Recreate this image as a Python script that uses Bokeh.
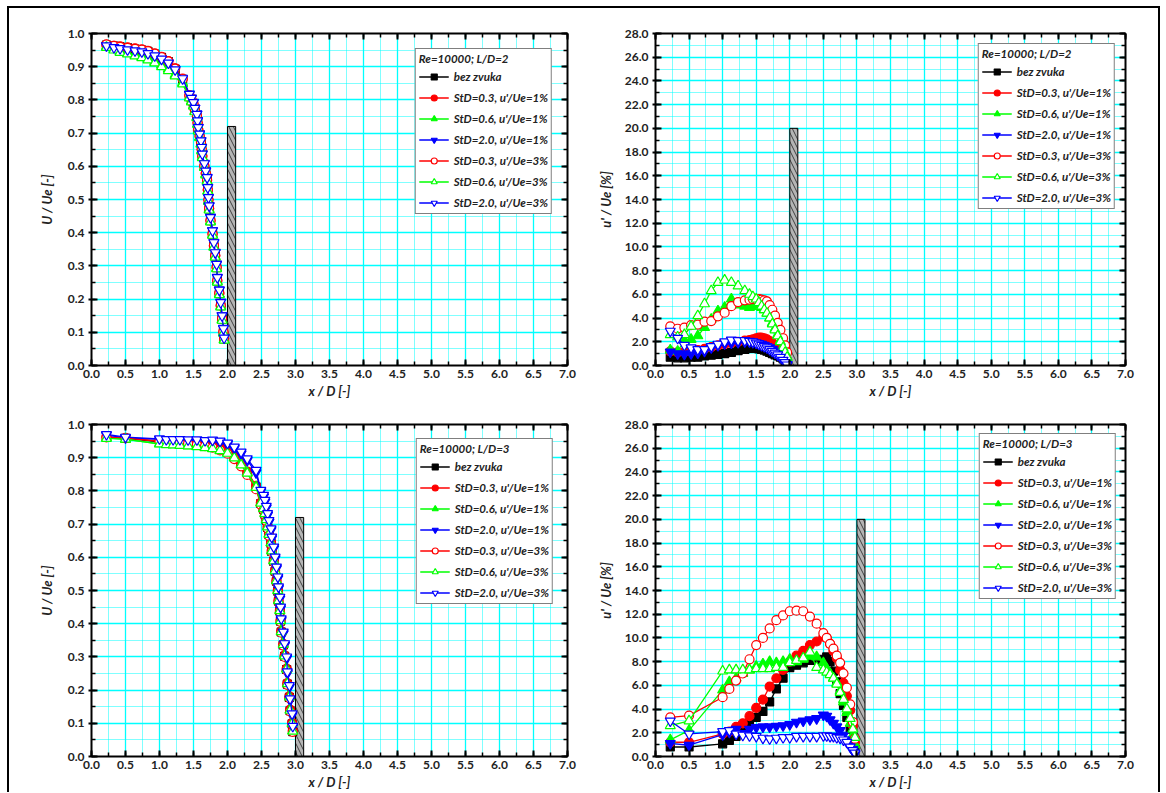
from bokeh.plotting import figure
from bokeh.models import (Range1d, LinearAxis, SingleIntervalTicker, PrintfTickFormatter,
                          Legend, LegendItem, CustomJSTickFormatter)
from bokeh.layouts import row, column
from bokeh.embed import file_html
from bokeh.resources import INLINE

# ---------------- data ----------------
series_labels = ["bez zvuka",
                 "StD=0.3, u'/Ue=1%", "StD=0.6, u'/Ue=1%", "StD=2.0, u'/Ue=1%",
                 "StD=0.3, u'/Ue=3%", "StD=0.6, u'/Ue=3%", "StD=2.0, u'/Ue=3%"]
legend_titles = ["Re=10000; L/D=2", "Re=10000; L/D=3"]

# plate (obstacle) geometry in x/D
plate_left = [2.0, 3.0]
plate_right = [2.12, 3.12]
plate_top_mean = [0.72, 0.72]
plate_top_rms = [20.0, 20.0]

# ---- L/D = 2, mean velocity U/Ue ----
x_ld2_mean = [0.22, 0.33, 0.42, 0.53, 0.64, 0.74, 0.83, 0.93, 1.03, 1.13,
              1.23, 1.34, 1.44, 1.47, 1.50, 1.52, 1.55, 1.56, 1.57, 1.59,
              1.61, 1.62, 1.63, 1.66, 1.68, 1.70, 1.71, 1.72, 1.73, 1.75,
              1.78, 1.80, 1.82, 1.84, 1.85, 1.88, 1.90, 1.92, 1.94, 1.95]
ld2_mean_bez = [0.965, 0.962, 0.960, 0.957, 0.953, 0.950, 0.946, 0.938, 0.928, 0.915,
                0.893, 0.862, 0.812, 0.800, 0.786, 0.768, 0.750, 0.730, 0.710, 0.690,
                0.670, 0.650, 0.630, 0.600, 0.578, 0.558, 0.528, 0.498, 0.472, 0.436,
                0.396, 0.360, 0.330, 0.295, 0.255, 0.217, 0.180, 0.140, 0.101, 0.080]
ld2_mean_03_1 = [0.966, 0.963, 0.961, 0.958, 0.955, 0.952, 0.948, 0.940, 0.930, 0.917,
                 0.895, 0.864, 0.814, 0.801, 0.787, 0.769, 0.751, 0.731, 0.711, 0.691,
                 0.671, 0.651, 0.631, 0.601, 0.579, 0.559, 0.529, 0.499, 0.473, 0.437,
                 0.397, 0.361, 0.331, 0.296, 0.256, 0.218, 0.181, 0.141, 0.102, 0.081]
ld2_mean_06_1 = [0.960, 0.952, 0.945, 0.940, 0.935, 0.930, 0.924, 0.915, 0.905, 0.893,
                 0.876, 0.852, 0.808, 0.796, 0.783, 0.766, 0.748, 0.728, 0.708, 0.688,
                 0.668, 0.648, 0.628, 0.598, 0.576, 0.556, 0.526, 0.496, 0.470, 0.434,
                 0.394, 0.358, 0.328, 0.293, 0.253, 0.215, 0.178, 0.138, 0.099, 0.078]
ld2_mean_20_1 = [0.964, 0.959, 0.956, 0.952, 0.949, 0.946, 0.941, 0.934, 0.924, 0.912,
                 0.892, 0.865, 0.818, 0.806, 0.793, 0.776, 0.758, 0.738, 0.718, 0.698,
                 0.678, 0.658, 0.638, 0.609, 0.587, 0.567, 0.537, 0.507, 0.482, 0.447,
                 0.407, 0.371, 0.341, 0.306, 0.266, 0.228, 0.191, 0.151, 0.112, 0.084]
ld2_mean_03_3 = [0.967, 0.963, 0.960, 0.957, 0.954, 0.951, 0.947, 0.939, 0.929, 0.916,
                 0.894, 0.863, 0.813, 0.801, 0.787, 0.769, 0.751, 0.731, 0.711, 0.691,
                 0.671, 0.651, 0.631, 0.601, 0.579, 0.559, 0.529, 0.499, 0.473, 0.437,
                 0.397, 0.361, 0.331, 0.296, 0.256, 0.218, 0.181, 0.141, 0.102, 0.081]
ld2_mean_06_3 = [0.958, 0.950, 0.943, 0.938, 0.932, 0.927, 0.920, 0.911, 0.900, 0.888,
                 0.872, 0.848, 0.806, 0.794, 0.781, 0.764, 0.746, 0.726, 0.706, 0.686,
                 0.666, 0.646, 0.626, 0.596, 0.574, 0.554, 0.524, 0.494, 0.468, 0.432,
                 0.392, 0.356, 0.326, 0.291, 0.251, 0.213, 0.176, 0.136, 0.097, 0.076]
ld2_mean_20_3 = [0.963, 0.958, 0.955, 0.951, 0.948, 0.945, 0.940, 0.933, 0.923, 0.911,
                 0.891, 0.864, 0.817, 0.805, 0.792, 0.775, 0.757, 0.737, 0.717, 0.697,
                 0.677, 0.657, 0.637, 0.608, 0.586, 0.566, 0.536, 0.506, 0.481, 0.446,
                 0.406, 0.370, 0.340, 0.305, 0.265, 0.227, 0.190, 0.150, 0.111, 0.083]

# ---- L/D = 2, turbulence intensity u'/Ue [%] ----
x_ld2_rms = [0.22, 0.33, 0.43, 0.53, 0.63, 0.73, 0.83, 0.93, 1.03, 1.13,
             1.23, 1.33, 1.40, 1.45, 1.50, 1.54, 1.58, 1.62, 1.66, 1.70,
             1.74, 1.78, 1.82, 1.86, 1.90, 1.93, 1.96]
ld2_rms_bez = [0.7, 0.65, 0.65, 0.7, 0.7, 0.8, 0.87, 0.93, 1.0, 1.1,
               1.25, 1.35, 1.45, 1.5, 1.45, 1.4, 1.35, 1.3, 1.2, 1.1,
               1.0, 0.9, 0.8, 0.7, 0.55, 0.4, 0.3]
ld2_rms_03_1 = [1.2, 1.1, 1.15, 1.2, 1.3, 1.4, 1.55, 1.7, 1.8, 1.9,
                2.0, 2.1, 2.15, 2.2, 2.3, 2.35, 2.35, 2.3, 2.2, 2.05,
                1.9, 1.7, 1.5, 1.25, 0.95, 0.7, 0.4]
ld2_rms_06_1 = [1.3, 1.2, 2.1, 2.2, 2.5, 3.2, 3.9, 4.6, 4.9, 5.6,
                5.1, 5.0, 4.9, 5.0, 5.0, 5.0, 4.9, 4.7, 4.4, 4.0,
                3.6, 3.1, 2.6, 2.1, 1.6, 1.1, 0.6]
ld2_rms_20_1 = [1.15, 1.0, 0.95, 1.0, 1.05, 1.2, 1.5, 1.7, 1.85, 1.9,
                1.95, 2.0, 2.0, 1.95, 1.9, 1.85, 1.8, 1.7, 1.6, 1.5,
                1.35, 1.2, 1.0, 0.8, 0.55, 0.3, 0.1]
ld2_rms_03_3 = [3.3, 3.1, 3.2, 3.4, 3.45, 3.7, 3.75, 4.15, 4.45, 5.0,
                5.35, 5.5, 5.55, 5.6, 5.6, 5.6, 5.55, 5.5, 5.4, 5.1,
                4.7, 4.2, 3.6, 3.0, 2.3, 1.7, 1.1]
ld2_rms_06_3 = [2.6, 2.4, 2.6, 3.3, 4.2, 5.2, 6.3, 7.0, 7.2, 7.0,
                6.7, 6.3, 6.0, 5.8, 5.6, 5.3, 5.0, 4.7, 4.4, 4.0,
                3.5, 3.0, 2.5, 2.0, 1.5, 1.1, 0.7]
ld2_rms_20_3 = [2.9, 2.3, 1.7, 1.5, 1.35, 1.35, 1.6, 1.8, 2.0, 2.15,
                2.1, 2.1, 2.05, 2.0, 1.9, 1.8, 1.7, 1.6, 1.5, 1.35,
                1.2, 1.05, 0.9, 0.7, 0.45, 0.25, 0.05]

# ---- L/D = 3, mean velocity U/Ue ----
x_ld3_mean = [0.22, 0.50, 1.00, 1.10, 1.20, 1.30, 1.42, 1.55, 1.67, 1.78,
              1.89, 2.00, 2.10, 2.20, 2.29, 2.42, 2.49, 2.53, 2.55, 2.57,
              2.59, 2.61, 2.64, 2.65, 2.68, 2.70, 2.72, 2.74, 2.75, 2.77,
              2.78, 2.79, 2.82, 2.84, 2.87, 2.88, 2.91, 2.92, 2.95, 2.96]
ld3_mean_bez = [0.962, 0.958, 0.948, 0.946, 0.945, 0.944, 0.942, 0.940, 0.937, 0.933,
                0.927, 0.918, 0.903, 0.882, 0.856, 0.812, 0.762, 0.745, 0.730, 0.712,
                0.690, 0.668, 0.642, 0.618, 0.588, 0.558, 0.528, 0.498, 0.468, 0.438,
                0.408, 0.375, 0.336, 0.302, 0.262, 0.218, 0.178, 0.138, 0.098, 0.075]
ld3_mean_03_1 = [0.963, 0.960, 0.950, 0.948, 0.947, 0.946, 0.944, 0.942, 0.939, 0.935,
                 0.929, 0.920, 0.905, 0.884, 0.858, 0.815, 0.765, 0.748, 0.733, 0.715,
                 0.693, 0.671, 0.645, 0.621, 0.591, 0.561, 0.531, 0.501, 0.471, 0.441,
                 0.411, 0.378, 0.339, 0.305, 0.265, 0.221, 0.181, 0.141, 0.101, 0.078]
ld3_mean_06_1 = [0.960, 0.955, 0.942, 0.940, 0.939, 0.938, 0.936, 0.934, 0.931, 0.928,
                 0.922, 0.914, 0.900, 0.880, 0.855, 0.812, 0.764, 0.747, 0.732, 0.714,
                 0.692, 0.670, 0.644, 0.620, 0.590, 0.560, 0.530, 0.500, 0.470, 0.440,
                 0.410, 0.377, 0.338, 0.304, 0.264, 0.220, 0.180, 0.140, 0.100, 0.077]
ld3_mean_20_1 = [0.968, 0.960, 0.955, 0.953, 0.953, 0.953, 0.952, 0.951, 0.950, 0.950,
                 0.947, 0.940, 0.928, 0.912, 0.892, 0.855, 0.798, 0.782, 0.767, 0.749,
                 0.727, 0.706, 0.681, 0.656, 0.626, 0.596, 0.566, 0.536, 0.506, 0.475,
                 0.445, 0.410, 0.370, 0.335, 0.295, 0.250, 0.209, 0.169, 0.124, 0.088]
ld3_mean_03_3 = [0.961, 0.959, 0.949, 0.946, 0.945, 0.944, 0.942, 0.939, 0.935, 0.930,
                 0.922, 0.912, 0.896, 0.874, 0.848, 0.805, 0.758, 0.742, 0.727, 0.709,
                 0.687, 0.665, 0.640, 0.616, 0.586, 0.556, 0.526, 0.496, 0.466, 0.436,
                 0.406, 0.373, 0.334, 0.300, 0.260, 0.216, 0.176, 0.136, 0.097, 0.074]
ld3_mean_06_3 = [0.958, 0.956, 0.941, 0.939, 0.938, 0.937, 0.935, 0.933, 0.930, 0.927,
                 0.921, 0.913, 0.899, 0.878, 0.853, 0.810, 0.763, 0.746, 0.731, 0.713,
                 0.691, 0.669, 0.643, 0.619, 0.589, 0.559, 0.529, 0.499, 0.469, 0.439,
                 0.409, 0.376, 0.337, 0.303, 0.263, 0.219, 0.179, 0.139, 0.099, 0.076]
ld3_mean_20_3 = [0.970, 0.962, 0.957, 0.955, 0.955, 0.955, 0.954, 0.954, 0.952, 0.953,
                 0.950, 0.944, 0.932, 0.917, 0.897, 0.862, 0.802, 0.787, 0.772, 0.754,
                 0.732, 0.711, 0.686, 0.661, 0.631, 0.601, 0.571, 0.541, 0.511, 0.480,
                 0.450, 0.415, 0.375, 0.340, 0.300, 0.255, 0.214, 0.174, 0.129, 0.091]

# ---- L/D = 3, turbulence intensity u'/Ue [%] ----
x_ld3_rms = [0.22, 0.50, 1.00, 1.10, 1.20, 1.30, 1.40, 1.50, 1.60, 1.70,
             1.80, 1.90, 2.00, 2.10, 2.20, 2.30, 2.40, 2.50, 2.55, 2.60,
             2.65, 2.70, 2.75, 2.80, 2.85, 2.90, 2.94, 2.97]
ld3_rms_bez = [0.8, 0.8, 1.07, 1.35, 1.7, 2.3, 2.8, 3.3, 3.8, 4.6,
               5.7, 6.6, 7.5, 7.7, 7.9, 8.1, 8.1, 8.2, 8.4, 8.0,
               7.2, 6.3, 5.3, 4.3, 3.3, 2.3, 1.3, 0.6]
ld3_rms_03_1 = [1.2, 1.2, 1.9, 2.1, 2.5, 2.8, 3.4, 4.1, 4.8, 5.9,
                6.6, 7.3, 8.0, 8.5, 8.9, 9.4, 9.7, 10.1, 10.0, 9.5,
                8.9, 8.3, 7.3, 6.2, 5.1, 3.9, 2.6, 1.2]
ld3_rms_06_1 = [1.4, 2.2, 5.6, 6.3, 6.6, 7.0, 7.3, 7.6, 7.8, 8.0,
                7.9, 8.0, 8.2, 8.0, 8.2, 8.45, 8.4, 7.9, 7.4, 7.0,
                6.6, 6.2, 5.5, 4.6, 3.7, 2.8, 1.8, 1.0]
ld3_rms_20_1 = [1.1, 0.95, 1.85, 2.05, 2.3, 1.95, 2.3, 2.45, 2.5, 2.5,
                2.55, 2.6, 2.7, 2.9, 3.0, 3.1, 3.2, 3.5, 3.4, 3.1,
                2.8, 2.5, 2.2, 1.8, 1.4, 1.0, 0.6, 0.2]
ld3_rms_03_3 = [3.3, 3.45, 5.0, 5.7, 6.4, 7.0, 8.2, 9.4, 10.0, 10.8,
                11.5, 11.9, 12.25, 12.3, 12.25, 11.8, 11.2, 10.4, 10.0, 9.5,
                9.1, 8.5, 7.9, 7.0, 5.8, 4.4, 2.9, 1.5]
ld3_rms_06_3 = [2.6, 3.0, 7.2, 7.3, 7.3, 7.3, 7.3, 7.4, 7.4, 7.4,
                7.5, 7.5, 7.9, 8.1, 8.3, 8.8, 7.5, 7.3, 7.1, 6.9,
                6.6, 6.1, 5.4, 4.8, 4.0, 3.2, 2.3, 1.6]
ld3_rms_20_3 = [3.0, 1.9, 2.1, 2.2, 1.9, 1.8, 1.75, 1.7, 1.55, 1.5,
                1.55, 1.6, 1.6, 1.7, 1.7, 1.7, 1.7, 1.75, 1.75, 1.7,
                1.7, 1.6, 1.55, 1.4, 1.2, 0.8, 0.5, 0.3]

# ---------------- styling ----------------
COLORS = ["#000000", "#FF0000", "#00FF00", "#0000FF", "#FF0000", "#00FF00", "#0000FF"]
MARKERS = ["square", "circle", "triangle", "inverted_triangle", "circle", "triangle", "inverted_triangle"]
FILLED = [True, True, True, True, False, False, False]
SIZES = [8, 9, 10, 10, 9, 10, 10]
FONT = "Lato"
CYAN = "#00FFFF"


def style_axis(ax, tick_out, label_standoff, axis_label_standoff, blank=False):
    ax.axis_line_width = 2
    ax.axis_line_color = "black"
    ax.major_tick_line_width = 2
    ax.minor_tick_line_width = 1.5
    ax.major_tick_line_color = "black"
    ax.minor_tick_line_color = "black"
    ax.major_tick_in = 6
    ax.major_tick_out = tick_out
    ax.minor_tick_in = 4
    ax.minor_tick_out = 0
    ax.major_label_standoff = label_standoff
    ax.axis_label_standoff = axis_label_standoff
    ax.major_label_text_font = FONT
    ax.major_label_text_font_style = "bold"
    ax.major_label_text_font_size = "12px"
    ax.major_label_text_color = "#222222"
    ax.axis_label_text_font = FONT
    ax.axis_label_text_font_style = "bold italic"
    ax.axis_label_text_font_size = "13px"
    ax.axis_label_text_color = "#222222"
    if blank:
        ax.formatter = CustomJSTickFormatter(code="return ''")
        ax.major_label_standoff = 0


def make_panel(x, ys, y_end, y_step, y_label, leg_title, pl, pr, pt,
               w, h, mb_left, mb_right, mb_top, mb_bottom, leg_margin, ylab_standoff, xlab_standoff):
    p = figure(width=w, height=h,
               x_range=Range1d(0, 7), y_range=Range1d(0, y_end),
               output_backend="svg", toolbar_location=None,
               min_border_left=mb_left, min_border_right=mb_right,
               min_border_top=mb_top, min_border_bottom=mb_bottom,
               outline_line_color=None, background_fill_color="white",
               border_fill_color="white")
    xt = SingleIntervalTicker(interval=0.5, num_minor_ticks=2)
    yt = SingleIntervalTicker(interval=y_step, num_minor_ticks=2)
    fmt = PrintfTickFormatter(format="%.1f")

    xa = p.xaxis[0]
    xa.ticker = xt
    xa.formatter = fmt
    xa.axis_label = "x / D [-]"
    style_axis(xa, 0, 4, xlab_standoff)

    ya = p.yaxis[0]
    ya.ticker = yt
    ya.formatter = fmt
    ya.axis_label = y_label
    style_axis(ya, 3, 4, ylab_standoff)

    top = LinearAxis(ticker=xt)
    style_axis(top, 0, 0, 0, blank=True)
    p.add_layout(top, "above")
    right = LinearAxis(ticker=yt)
    style_axis(right, 0, 0, 0, blank=True)
    p.add_layout(right, "right")

    for g in (p.xgrid[0], p.ygrid[0]):
        g.grid_line_color = CYAN
        g.grid_line_width = 1.3
        g.minor_grid_line_color = CYAN
        g.minor_grid_line_width = 1
        g.minor_grid_line_dash = "1 1"

    # plate
    p.quad(left=[pl], right=[pr], bottom=[0], top=[pt],
           fill_color="#B4B4B4", line_color="black", line_width=1,
           hatch_pattern="\\", hatch_color="#222222", hatch_scale=9, hatch_weight=0.8)

    items = []
    for i in range(7):
        lr = p.line(x, ys[i], line_color=COLORS[i], line_width=1.3)
        sr = p.scatter(x, ys[i], marker=MARKERS[i], size=SIZES[i],
                       line_color=COLORS[i], line_width=1.2,
                       fill_color=COLORS[i] if FILLED[i] else "white")
        items.append(LegendItem(label=series_labels[i], renderers=[lr, sr]))

    leg = Legend(items=items, location="top_right", title=leg_title,
                 margin=leg_margin, padding=3, spacing=6,
                 glyph_width=30, glyph_height=15, label_height=15, label_standoff=5,
                 label_text_font=FONT, label_text_font_style="bold italic",
                 label_text_font_size="11.5px", label_text_color="#222222",
                 title_text_font=FONT, title_text_font_style="bold italic",
                 title_text_font_size="11.5px", title_text_color="#222222",
                 title_standoff=4,
                 border_line_color="black", border_line_width=1,
                 background_fill_color="white", background_fill_alpha=1.0)
    p.add_layout(leg)
    return p


p_tl = make_panel(x_ld2_mean,
                  [ld2_mean_bez, ld2_mean_03_1, ld2_mean_06_1, ld2_mean_20_1,
                   ld2_mean_03_3, ld2_mean_06_3, ld2_mean_20_3],
                  1.0, 0.1, "U / Ue [-]", legend_titles[0],
                  plate_left[0], plate_right[0], plate_top_mean[0],
                  585, 393, 82, 27, 25, 36, 15, 10, 2)
p_tr = make_panel(x_ld2_rms,
                  [ld2_rms_bez, ld2_rms_03_1, ld2_rms_06_1, ld2_rms_20_1,
                   ld2_rms_03_3, ld2_rms_06_3, ld2_rms_20_3],
                  28.0, 2.0, "u' / Ue [%]", legend_titles[0],
                  plate_left[0], plate_right[0], plate_top_rms[0],
                  564, 393, 57, 33, 25, 36, 10, 8, 2)
p_bl = make_panel(x_ld3_mean,
                  [ld3_mean_bez, ld3_mean_03_1, ld3_mean_06_1, ld3_mean_20_1,
                   ld3_mean_03_3, ld3_mean_06_3, ld3_mean_20_3],
                  1.0, 0.1, "U / Ue [-]", legend_titles[1],
                  plate_left[1], plate_right[1], plate_top_mean[1],
                  585, 391, 82, 27, 23, 36, 14, 10, 2)
p_br = make_panel(x_ld3_rms,
                  [ld3_rms_bez, ld3_rms_03_1, ld3_rms_06_1, ld3_rms_20_1,
                   ld3_rms_03_3, ld3_rms_06_3, ld3_rms_20_3],
                  28.0, 2.0, "u' / Ue [%]", legend_titles[1],
                  plate_left[1], plate_right[1], plate_top_rms[1],
                  564, 391, 57, 33, 23, 36, 9, 8, 2)

layout = column(row(p_tl, p_tr), row(p_bl, p_br),
                styles={"border-top": "2px solid black", "border-left": "2px solid black",
                        "border-right": "2px solid black", "box-sizing": "content-box",
                        "margin-left": "7px", "margin-top": "6px",
                        "background-color": "white"})

open("out.html", "w").write(file_html(layout, INLINE))
